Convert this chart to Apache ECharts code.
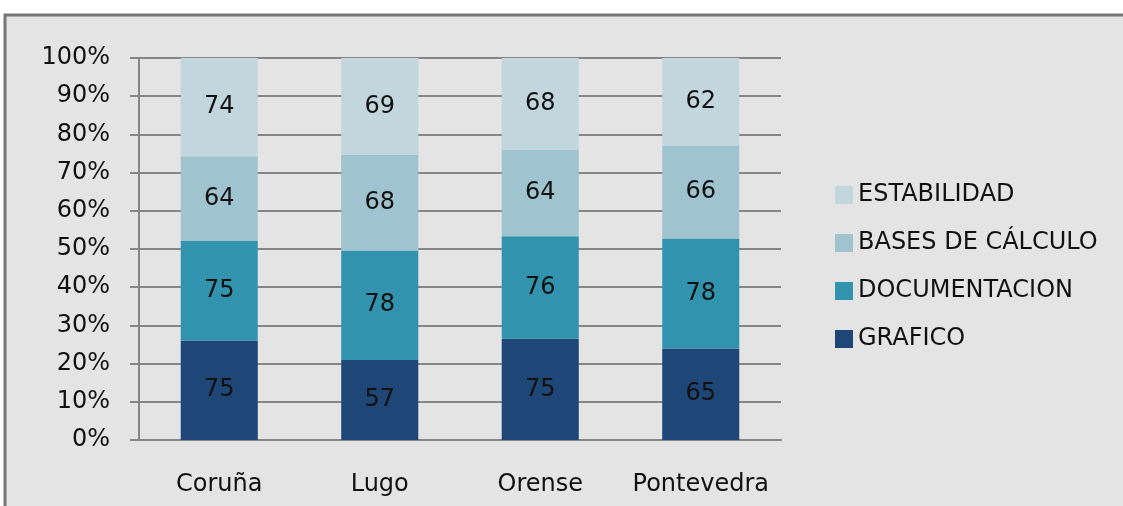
<!DOCTYPE html>
<html>
<head>
<meta charset="utf-8">
<script src="https://cdn.jsdelivr.net/npm/echarts@6/dist/echarts.min.js"></script>
<style>
  html, body { margin: 0; padding: 0; background: #fff; }
  #main { width: 1123px; height: 506px; }
</style>
</head>
<body>
<div id="main"></div>
<script>
const provincias = ["Coruña", "Lugo", "Orense", "Pontevedra"];
const grafico = [75, 57, 75, 65];
const documentacion = [75, 78, 76, 78];
const basesCalculo = [64, 68, 64, 66];
const estabilidad = [74, 69, 68, 62];

const seriesDefs = [
  { name: "GRAFICO", values: grafico, color: "#1e4676" },
  { name: "DOCUMENTACION", values: documentacion, color: "#3193ad" },
  { name: "BASES DE CÁLCULO", values: basesCalculo, color: "#9fc4d0" },
  { name: "ESTABILIDAD", values: estabilidad, color: "#c2d6de" }
];

// totals per province, used to stack as 100%
const totals = provincias.map((_, i) =>
  seriesDefs.reduce((s, d) => s + d.values[i], 0)
);

const font = "DejaVu Sans";
const fs = 24;
const chart = echarts.init(document.getElementById("main"));

chart.setOption({
  animation: false,
  graphic: [
    {
      type: "rect",
      z: -10,
      shape: { x: 5, y: 15, width: 1200, height: 600 },
      style: { fill: "#e4e4e4", stroke: "#767676", lineWidth: 3 }
    }
  ],
  grid: { left: 139, right: 342, top: 58, bottom: 66 },
  legend: {
    orient: "vertical",
    left: 830,
    top: 178,
    itemWidth: 18,
    itemHeight: 18,
    itemGap: 24,
    icon: "rect",
    data: seriesDefs.map(d => d.name).reverse(),
    textStyle: { fontFamily: font, fontSize: fs, color: "#111" }
  },
  xAxis: {
    type: "category",
    data: provincias,
    axisLine: { lineStyle: { color: "#868686", width: 2 } },
    axisTick: { length: 9, lineStyle: { color: "#868686", width: 2 } },
    axisLabel: { interval: 0, margin: 33, fontFamily: font, fontSize: fs, color: "#111" }
  },
  yAxis: {
    type: "value",
    min: 0,
    max: 100,
    interval: 10,
    axisLine: { show: true, lineStyle: { color: "#868686", width: 2 } },
    axisTick: { show: true, length: 9, lineStyle: { color: "#868686", width: 2 } },
    splitLine: { lineStyle: { color: "#868686", width: 2 } },
    axisLabel: { margin: 29, formatter: "{value}%", fontFamily: font, fontSize: fs, color: "#111" }
  },
  series: seriesDefs.map(d => ({
    name: d.name,
    type: "bar",
    stack: "total",
    barWidth: "48%",
    itemStyle: { color: d.color },
    label: {
      show: true,
      position: "inside",
      fontFamily: font,
      fontSize: fs,
      color: "#111",
      formatter: p => d.values[p.dataIndex]
    },
    data: d.values.map((v, i) => (v / totals[i]) * 100)
  }))
});
</script>
</body>
</html>
